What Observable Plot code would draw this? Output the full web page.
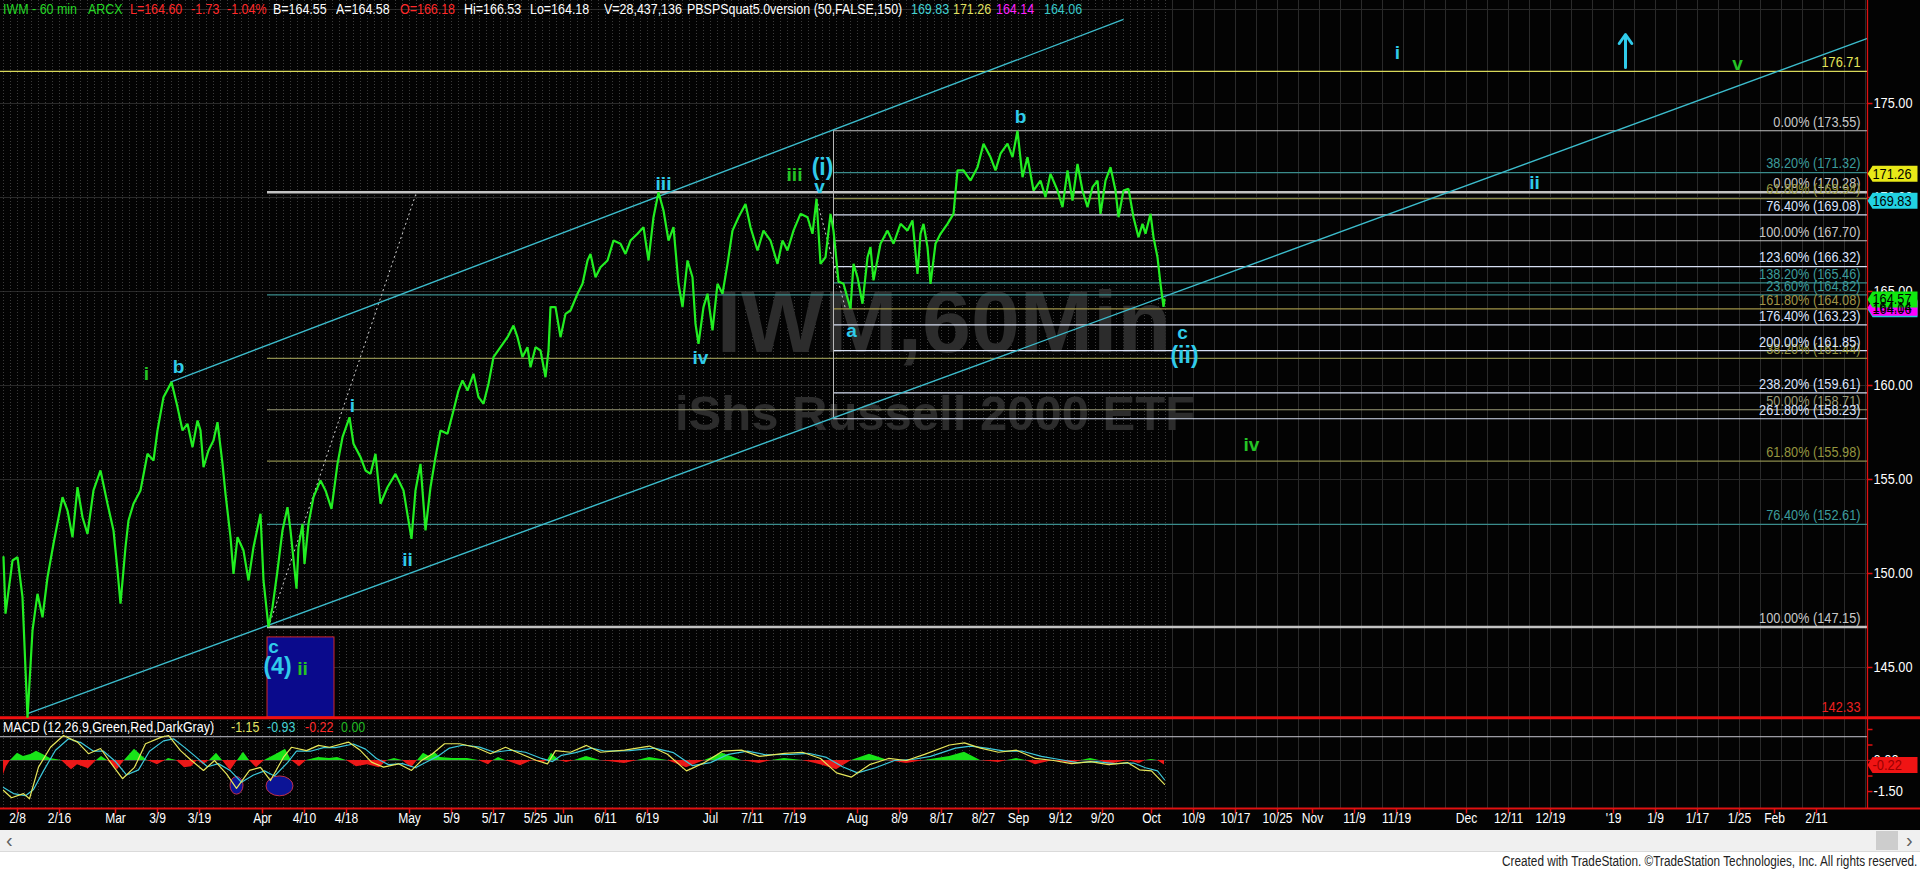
<!DOCTYPE html>
<html>
<head>
<meta charset="utf-8">
<script src="https://cdn.jsdelivr.net/npm/d3@7"></script>
<script src="https://cdn.jsdelivr.net/npm/@observablehq/plot@0.6"></script>
<style>
html,body{margin:0;padding:0;background:#fff;}
#wrap{position:relative;width:1920px;height:870px;overflow:hidden;font-family:"Liberation Sans",Arial,sans-serif;background:#fff;}
#chart{position:absolute;left:0;top:0;width:1920px;height:830px;background:#030303;}
#chart svg{position:absolute;left:0;background:transparent !important;max-width:none !important;}
.hl{position:absolute;white-space:nowrap;font-size:15px;line-height:17px;transform:scaleX(.83);transform-origin:0 50%;}
#scroll{position:absolute;left:0;top:830px;width:1920px;height:22px;background:#f0f0f0;border-bottom:1px solid #dadada;box-sizing:border-box;}
#thumb{position:absolute;left:1876px;top:1px;width:22px;height:19px;background:#cdcdcd;}
.arr{position:absolute;top:0;font-size:20px;line-height:20px;color:#606060;}
#foot{position:absolute;right:3px;top:852px;font-size:14px;line-height:18px;color:#222;white-space:nowrap;transform:scaleX(.84);transform-origin:100% 50%;}
</style>
</head>
<body>
<div id="wrap">
  <div id="chart"></div>
  <div id="scroll"><span class="arr" style="left:6px">&#8249;</span><div id="thumb"></div><span class="arr" style="left:1906px">&#8250;</span></div>
  <div id="foot">Created with TradeStation. &#169;TradeStation Technologies, Inc. All rights reserved.</div>
</div>
<script>
// ================= DATA =================
const firstDay = "2018-02-06";
const holidays = ["2018-02-19","2018-03-30","2018-05-28","2018-07-04","2018-09-03"];
const barsPerDay = 7;

const tickLabels = ["2/8","2/16","Mar","3/9","3/19","Apr","4/10","4/18","May","5/9","5/17","5/25","Jun","6/11","6/19","Jul","7/11","7/19","Aug","8/9","8/17","8/27","Sep","9/12","9/20","Oct","10/9","10/17","10/25","Nov","11/9","11/19","Dec","12/11","12/19","'19","1/9","1/17","1/25","Feb","2/11"];
const tickDates = ["2018-02-08","2018-02-16","2018-03-01","2018-03-09","2018-03-19","2018-04-02","2018-04-10","2018-04-18","2018-05-01","2018-05-09","2018-05-17","2018-05-25","2018-06-01","2018-06-11","2018-06-19","2018-07-02","2018-07-11","2018-07-19","2018-08-01","2018-08-09","2018-08-17","2018-08-27","2018-09-04","2018-09-12","2018-09-20","2018-10-01","2018-10-09","2018-10-17","2018-10-25","2018-11-01","2018-11-09","2018-11-19","2018-12-03","2018-12-11","2018-12-19","2019-01-01","2019-01-09","2019-01-17","2019-01-25","2019-02-01","2019-02-11"];

// 60-min bars: [bar number, price]
const price = [[0,150.87],[2,147.86],[9,150.69],[14,150.87],[19,148.74],[24,142.33],[29,146.97],[34,148.92],[39,147.67],[44,149.80],[50,151.58],[59,154.06],[64,153.35],[69,151.93],[74,154.59],[79,152.99],[84,152.11],[90,154.42],[97,155.48],[104,153.71],[110,152.29],[114,150.16],[117,148.39],[122,151.40],[125,152.82],[130,153.71],[137,154.42],[144,156.37],[150,156.01],[154,157.61],[160,159.38],[168,160.18],[174,158.85],[179,157.61],[184,157.96],[189,156.72],[194,158.14],[197,157.61],[200,155.65],[205,156.54],[210,157.07],[214,158.05],[219,155.83],[222,154.24],[227,151.93],[230,149.98],[234,151.93],[240,151.22],[245,149.63],[250,151.40],[257,153.18],[260,149.63],[265,147.15],[269,148.21],[274,150.16],[279,152.29],[284,153.53],[287,152.29],[293,149.19],[295,151.40],[299,152.64],[301,150.51],[305,152.64],[310,154.06],[317,154.95],[322,154.42],[328,153.44],[334,155.83],[339,157.25],[346,158.31],[350,156.90],[357,156.19],[362,155.48],[367,155.30],[372,156.37],[377,153.71],[384,154.59],[392,155.30],[400,154.42],[408,151.84],[412,154.42],[417,155.83],[422,152.29],[427,154.59],[432,156.19],[437,157.61],[444,157.43],[450,158.67],[455,159.73],[459,160.27],[464,159.73],[470,160.62],[475,159.38],[480,159.03],[485,160.09],[490,161.51],[497,162.04],[504,162.57],[510,163.19],[514,162.57],[519,161.51],[524,162.04],[527,160.97],[532,162.04],[537,161.86],[542,160.44],[545,161.86],[547,164.17],[552,164.17],[557,162.57],[562,163.81],[567,163.99],[574,164.88],[579,165.41],[584,166.65],[587,167.00],[592,165.76],[597,166.29],[604,166.65],[610,167.71],[617,167.54],[622,167.00],[627,167.71],[634,168.07],[640,168.42],[645,166.65],[650,168.95],[655,170.28],[660,169.31],[665,167.71],[670,168.42],[675,165.41],[679,164.17],[684,166.65],[689,165.76],[692,163.28],[695,162.22],[700,164.17],[704,164.88],[709,162.93],[714,165.41],[719,164.88],[724,166.47],[729,168.24],[735,168.95],[742,169.66],[747,168.42],[754,167.18],[760,168.24],[767,167.71],[774,166.47],[779,167.71],[784,167.18],[790,168.24],[797,169.13],[804,168.95],[809,168.07],[813,169.93],[817,166.47],[822,166.82],[827,169.13],[830,168.24],[835,165.53],[840,165.41],[847,164.08],[850,166.47],[854,165.76],[859,164.35],[864,166.82],[867,167.36],[870,165.59],[877,167.54],[884,168.24],[890,167.54],[897,168.60],[904,168.24],[909,168.78],[914,165.94],[917,168.07],[920,168.60],[924,167.36],[927,165.41],[932,167.54],[937,168.07],[944,168.60],[950,169.13],[954,171.44],[960,171.44],[967,170.90],[974,171.61],[980,172.86],[987,172.15],[992,171.44],[997,172.33],[1004,172.86],[1009,172.15],[1014,173.55],[1019,171.08],[1024,172.15],[1030,170.37],[1037,170.90],[1042,170.02],[1047,171.26],[1054,170.37],[1059,169.49],[1064,171.44],[1069,169.84],[1074,171.79],[1079,170.37],[1084,169.49],[1089,170.55],[1094,170.90],[1097,169.13],[1102,170.90],[1107,171.61],[1112,170.37],[1115,168.95],[1120,170.37],[1125,170.46],[1130,168.95],[1135,167.89],[1139,168.60],[1142,168.07],[1147,169.13],[1150,167.89],[1154,166.82],[1157,165.41],[1160,164.18],[1161,164.57]];

const macdLine = [[0,-1.45],[8,-1.8],[20,-1.6],[26,-1.85],[35,-0.32],[47,0.64],[60,1.21],[74,0.89],[85,0.33],[97,0.58],[108,-0.16],[119,-0.88],[131,-0.33],[142,0.81],[158,1.13],[165,1.21],[177,0.48],[188,0],[200,-0.48],[211,0],[223,-0.65],[233,-1.35],[246,-0.48],[257,-0.33],[267,-0.97],[280,0.16],[288,0.64],[303,0.48],[315,0.73],[326,0.64],[345,0.89],[357,0.48],[368,-0.08],[380,-0.32],[395,-0.16],[408,-0.48],[418,0],[429,0.33],[441,0.81],[456,0.81],[472,0.64],[487,0.33],[502,0.64],[517,0.33],[533,0],[544,-0.16],[552,0.48],[567,0.4],[583,0.73],[597,0.4],[621,0.5],[646,0.7],[664,0.3],[683,-0.5],[701,-0.1],[719,0.45],[738,0.5],[756,0.2],[781,0.35],[799,0.4],[817,0.1],[833,-0.6],[848,-0.8],[866,-0.2],[885,0.1],[903,0],[921,0.3],[946,0.75],[961,0.85],[977,0.6],[995,0.4],[1013,0.5],[1032,0.1],[1050,0],[1068,-0.15],[1087,-0.05],[1105,-0.2],[1124,-0.1],[1136,-0.45],[1148,-0.5],[1161,-1.15]];
const macdSignal = [[0,-1.3],[10,-1.6],[22,-1.7],[30,-1.4],[40,-0.5],[52,0.5],[65,1.05],[78,0.85],[90,0.45],[100,0.45],[112,-0.05],[123,-0.7],[135,-0.45],[146,0.45],[160,0.95],[170,1.05],[182,0.6],[193,0.15],[204,-0.3],[215,-0.15],[227,-0.5],[238,-1.05],[250,-0.7],[261,-0.5],[271,-0.75],[284,-0.1],[293,0.45],[307,0.45],[320,0.62],[332,0.62],[350,0.8],[362,0.55],[373,0.1],[385,-0.2],[399,-0.15],[412,-0.35],[422,-0.1],[434,0.2],[446,0.6],[460,0.75],[476,0.65],[491,0.4],[507,0.5],[522,0.4],[538,0.1],[549,-0.05],[558,0.25],[572,0.38],[588,0.6],[602,0.45],[626,0.48],[651,0.6],[670,0.38],[689,-0.25],[707,-0.1],[725,0.3],[744,0.45],[762,0.28],[787,0.3],[805,0.35],[823,0.15],[839,-0.3],[854,-0.6],[872,-0.35],[891,0],[909,0.05],[927,0.2],[952,0.6],[967,0.7],[983,0.6],[1001,0.45],[1019,0.45],[1038,0.2],[1056,0.05],[1074,-0.1],[1093,-0.05],[1111,-0.15],[1130,-0.12],[1142,-0.35],[1154,-0.5],[1161,-0.93]];
const macdHist = [[0,-0.7],[3,-0.3],[7,0],[14,0.35],[20,0.2],[28,0.3],[33,0.45],[39,0.3],[47,0.1],[58,0],[68,-0.45],[74,-0.2],[85,-0.4],[93,0],[98,0.2],[104,0],[114,-0.45],[121,0],[131,0.55],[139,0.2],[144,0],[154,-0.2],[162,0],[165,0.1],[173,0],[181,-0.35],[188,-0.3],[194,0],[200,-0.2],[206,0],[213,0.35],[219,0],[227,-0.5],[234,0],[240,0.4],[246,0],[253,-0.35],[261,0],[273,0.3],[282,0.55],[288,0],[296,-0.3],[303,0],[315,0.15],[326,0.1],[334,0.15],[343,0],[353,-0.3],[364,-0.2],[376,-0.35],[384,0],[391,0.1],[399,0],[408,-0.35],[414,0],[420,0.35],[426,0.2],[431,0.4],[437,0.15],[449,0.1],[464,0.1],[475,0],[485,-0.2],[490,0],[495,0.15],[502,0],[517,-0.25],[529,0],[540,-0.1],[544,0],[548,0.35],[556,0],[563,-0.1],[571,0],[583,0.2],[597,0],[621,-0.15],[634,0],[646,0.15],[664,0],[683,-0.35],[701,0],[719,0.35],[738,0],[756,-0.15],[768,0],[781,0.1],[799,0],[817,-0.2],[833,-0.45],[848,0],[866,0.3],[885,0],[903,-0.15],[921,0],[946,0.2],[961,0.4],[977,0],[995,-0.1],[1004,0],[1013,0.1],[1022,0],[1032,-0.2],[1050,0],[1068,-0.15],[1078,0],[1087,0.1],[1096,0],[1105,-0.2],[1124,0],[1136,-0.15],[1142,0],[1148,0.05],[1154,0],[1161,-0.22]];
const macdLevel = 1.15;
const macdLast = [-0.22];
const macdTickVals = [1.5, 0.75, 0, -0.75, -1.5];
const macdLabelVals = [0, -1.5];
const macdMarks = [[227,240,-1.65,-0.8],[263,290,-1.73,-0.77]];

// Fibonacci drawings: [percent, price]
const fibA = [[0,170.28],[23.6,164.82],[38.2,161.44],[50,158.71],[61.8,155.98],[76.4,152.61],[100,147.15]];
const fibAStart = 264;
const fibB = [[0,173.55],[38.2,171.32],[61.8,169.94],[76.4,169.08],[100,167.70],[123.6,166.32],[138.2,165.46],[161.8,164.08],[176.4,163.23],[200,161.85],[238.2,159.61],[261.8,158.23]];
const fibBStart = 830;
const targetLevel = [176.71];
const lowLevel = [142.33];

// trend channel & dotted projections: [bar, price, bar, price]
const channel = [[24,142.55,1864,178.46],[167,160.18,1120,179.47]];
const dotted = [[265,147.15,413,170.28],[813,169.93,842,164.08]];
const boxC4 = [[264,331,142.34,146.6]];
const arrowUp = [[1622,176.92,178.67]];

// Elliott wave labels: degree c = cyan, g = green
const waveText = ["i","b","i","ii","c","(4)","ii","iii","iv","iii","(i)","v","a","b","c","(ii)","iv","i","ii","v"];
const waveBar  = [143,175,349,404,270,274,299,660,697,791,819,816,848,1017,1179,1181,1248,1394,1531,1734];
const wavePrice= [160.62,160.98,158.94,150.73,146.08,145.02,144.93,170.73,161.47,171.22,171.58,170.59,162.92,174.31,162.78,161.60,156.84,177.68,170.76,177.11];
const waveDeg  = ["g","c","c","c","c","c","g","c","c","g","c","c","c","c","c","c","g","c","c","g"];

const priceTicks = [145,150,155,160,165,170,175];
const lastTags = [["pbsp4",164.06],["pbsp3",164.14],["close",164.57],["pbsp1",169.83],["pbsp2",171.26]];
const watermark = ["IWM,60Min","iShs Russell 2000 ETF"];

const headerText = ["IWM - 60 min","ARCX","L=164.60","-1.73","-1.04%","B=164.55","A=164.58","O=166.18","Hi=166.53","Lo=164.18","V=28,437,136","PBSPSquat5.0version (50,FALSE,150)","169.83","171.26","164.14","164.06"];
const macdHeaderText = ["MACD (12,26,9,Green,Red,DarkGray)","-1.15","-0.93","-0.22","0.00"];

// ================= LAYOUT / STYLE =================
const FONT = "Liberation Sans, Arial, sans-serif";
const headerLeft = [3,88,130,191,227,273,336,400,464,530,604,687,911,953,996,1044];
const headerColor = ["#27d827","#27d827","#ff2a2a","#ff2a2a","#ff2a2a","#fff","#fff","#ff2a2a","#fff","#fff","#fff","#fff","#45d2d2","#e2e260","#ff22ff","#38c8c8"];
const macdHeaderLeft = [3,231,267,305,341];
const macdHeaderColor = ["#fff","#e2e260","#45d2d2","#ff2a2a","#22b822"];
const GRAY="#c2c2c2", TEAL="#3a8c8c", OLIVE="#8c8c4c", WB="#d6def2";
const fibAColor = {0:GRAY,23.6:TEAL,38.2:OLIVE,50:"#9a9a76",61.8:OLIVE,76.4:TEAL,100:GRAY};
const fibBColor = {0:GRAY,38.2:TEAL,61.8:OLIVE,76.4:WB,100:GRAY,123.6:WB,138.2:TEAL,161.8:"#a09448",176.4:WB,200:WB,238.2:WB,261.8:WB};
const textColor = c => c===TEAL?"#3c9c9c":c===OLIVE?"#95953f":c===WB?"#dbe3ff":c===GRAY?"#c8c8c8":c;
const tagColor = {pbsp4:"#22c8d8",pbsp3:"#ff00ff",close:"#10e810",pbsp1:"#22d2e2",pbsp2:"#e8e818"};
const degColor = {c:"#30cbea", g:"#25c425"};
const X0 = -3, X1 = 1864, RM = 53;

// ================= HELPERS =================
function dayIndex(s){
  const d = new Date(firstDay+"T12:00:00Z"), end = new Date(s+"T12:00:00Z");
  let n = 0;
  while (d < end){
    const wd = d.getUTCDay(), iso = d.toISOString().slice(0,10);
    if (wd!==0 && wd!==6 && !holidays.includes(iso)) n++;
    d.setUTCDate(d.getUTCDate()+1);
  }
  return n;
}
const ticks = tickLabels.map((l,i)=>({label:l, bar: barsPerDay*dayIndex(tickDates[i])}));
const lastHistDay = Math.ceil(price[price.length-1][0]/barsPerDay);
const dailyGrid = d3.range(0, lastHistDay+1).map(t=>t*barsPerDay);
const futureGrid = d3.range(lastHistDay+1, Math.floor(X1/barsPerDay)+1, 3).map(t=>t*barsPerDay);

const tagSym = {draw(ctx){ctx.moveTo(0,0);ctx.lineTo(5,-8);ctx.lineTo(50,-8);ctx.lineTo(50,8);ctx.lineTo(5,8);ctx.closePath();}};
const hTick = {draw(ctx){ctx.moveTo(0,0);ctx.lineTo(5,0);}};
const vTick = {draw(ctx){ctx.moveTo(0,0);ctx.lineTo(0,5);}};

const fibRows = [
  ...fibA.map(([p,v])=>({p,v,start:fibAStart,color:fibAColor[p],w:(p===0||p===100)?2.5:1.2})),
  ...fibB.map(([p,v])=>({p,v,start:fibBStart,color:fibBColor[p],w:1.2}))
];
const fmt2 = v => v.toFixed(2);
const waves = waveText.map((t,i)=>({t,bar:waveBar[i],p:wavePrice[i],deg:waveDeg[i]}));

// ================= PRICE PANEL =================
const priceChart = Plot.plot({
  width: 1920, height: 720,
  marginLeft: 0, marginRight: RM, marginTop: 0, marginBottom: 3,
  x: {domain: [X0, X1], axis: null},
  y: {domain: [142.34, 180.479], axis: null},
  color: {type: "identity"},
  style: {background: "transparent", fontFamily: FONT, overflow: "visible"},
  marks: [
    Plot.ruleY(priceTicks.concat([180]), {stroke: "#2a2a2a"}),
    Plot.ruleX(dailyGrid, {stroke: "#3b3b3b", strokeDasharray: "1,2"}),
    Plot.ruleX(futureGrid, {stroke: "#2a2a2a"}),
    Plot.text([watermark[0]], {text: d=>d, frameAnchor: "middle", dx: 10, dy: -35, fontSize: 88, fontWeight: "bold", fill: "#2c2c2c"}),
    Plot.text([watermark[1]], {text: d=>d, frameAnchor: "middle", dx: 1, dy: 55, fontSize: 49, fontWeight: "bold", fill: "#2c2c2c"}),
    Plot.rect(boxC4, {x1: d=>d[0], x2: d=>d[1], y1: d=>d[2], y2: d=>d[3], fill: "#0a0a8c", stroke: "#d02828"}),
    Plot.ruleY(fibRows, {y: "v", x1: "start", x2: X1, stroke: "color", strokeWidth: "w"}),
    Plot.ruleX([fibBStart], {y1: fibB[fibB.length-1][1], y2: fibB[0][1], stroke: "#b8b8b8"}),
    Plot.ruleY(targetLevel, {stroke: "#d8d85a", strokeWidth: 1.3}),
    Plot.ruleY(lowLevel, {x1: X0, x2: X1+RM, stroke: "#f01010", strokeWidth: 3}),
    Plot.link(dotted, {x1: d=>d[0], y1: d=>d[1], x2: d=>d[2], y2: d=>d[3], stroke: "#d0d0d0", strokeDasharray: "2,3"}),
    Plot.link(channel, {x1: d=>d[0], y1: d=>d[1], x2: d=>d[2], y2: d=>d[3], stroke: "#3cbccc", strokeWidth: 1.4}),
    Plot.line(price, {x: d=>d[0], y: d=>d[1], stroke: "#22ee22", strokeWidth: 2.2, strokeLinejoin: "miter"}),
    Plot.text(waves.filter(d=>!d.t.startsWith("(")), {x: "bar", y: "p", text: "t", fill: d=>degColor[d.deg], fontSize: 19, fontWeight: "bold"}),
    Plot.text(waves.filter(d=>d.t.startsWith("(")), {x: "bar", y: "p", text: "t", fill: d=>degColor[d.deg], fontSize: 23, fontWeight: "bold"}),
    Plot.arrow(arrowUp, {x1: d=>d[0], y1: d=>d[1], x2: d=>d[0], y2: d=>d[2], stroke: "#30cbea", strokeWidth: 3, headLength: 9, headAngle: 70}),
    Plot.text(fibRows, {y: "v", text: d=>`${d.p.toFixed(2)}% (${fmt2(d.v)})`, frameAnchor: "right", dx: -7, dy: -9, textAnchor: "end", fill: d=>textColor(d.color), fontSize: 15}),
    Plot.text(targetLevel, {y: d=>d, text: fmt2, frameAnchor: "right", dx: -7, dy: -9, textAnchor: "end", fill: "#e6e65a", fontSize: 15}),
    Plot.text(lowLevel, {y: d=>d, text: fmt2, frameAnchor: "right", dx: -7, dy: -11, textAnchor: "end", fill: "#ee2020", fontSize: 15}),
    Plot.ruleX([X1], {stroke: "#e01010", strokeWidth: 1.3}),
    Plot.dot(priceTicks, {y: d=>d, frameAnchor: "right", symbol: hTick, stroke: "#e01010", fill: "none"}),
    Plot.text(priceTicks, {y: d=>d, text: fmt2, frameAnchor: "right", dx: 6, textAnchor: "start", fill: "#fff", fontSize: 15}),
    Plot.dot(lastTags, {y: d=>d[1], frameAnchor: "right", symbol: tagSym, fill: d=>tagColor[d[0]], stroke: "none"}),
    Plot.text(lastTags, {y: d=>d[1], text: d=>fmt2(d[1]), frameAnchor: "right", dx: 5, textAnchor: "start", fill: "#000", fontSize: 15})
  ]
});

// ================= MACD PANEL + TIME AXIS =================
const macdChart = Plot.plot({
  width: 1920, height: 113,
  marginLeft: 0, marginRight: RM, marginTop: 0, marginBottom: 22,
  x: {domain: [X0, X1], axis: null},
  y: {domain: [-2.32, 2.08], axis: null},
  color: {type: "identity"},
  style: {background: "transparent", fontFamily: FONT, overflow: "visible"},
  marks: [
    Plot.ruleX(dailyGrid, {stroke: "#3b3b3b", strokeDasharray: "1,2"}),
    Plot.ruleX(futureGrid, {stroke: "#2a2a2a"}),
    Plot.ruleY([macdLevel], {stroke: "#c6c6d0"}),
    Plot.ruleY([0], {stroke: "#444"}),
    Plot.areaY(macdHist, {x: d=>d[0], y1: 0, y2: d=>Math.max(0,d[1]), fill: "#18e418"}),
    Plot.areaY(macdHist, {x: d=>d[0], y1: 0, y2: d=>Math.min(0,d[1]), fill: "#ec1818"}),
    Plot.rect([macdMarks[0]], {x1: d=>d[0], x2: d=>d[1], y1: d=>d[2], y2: d=>d[3], fill: "#0c1496", stroke: "#c0304a", rx: 6.5, ry: 9}),
    Plot.rect([macdMarks[1]], {x1: d=>d[0], x2: d=>d[1], y1: d=>d[2], y2: d=>d[3], fill: "#0c1496", stroke: "#c0304a", rx: 13.5, ry: 10}),
    Plot.line(macdSignal, {x: d=>d[0], y: d=>d[1], stroke: "#3cc8dc", strokeWidth: 1.2}),
    Plot.line(macdLine, {x: d=>d[0], y: d=>d[1], stroke: "#e6e65a", strokeWidth: 1.2}),
    Plot.ruleY([-2.32], {x1: X0, x2: X1+RM, stroke: "#e01010", strokeWidth: 2}),
    Plot.ruleX([X1], {stroke: "#e01010", strokeWidth: 1.3}),
    Plot.dot(ticks, {x: "bar", frameAnchor: "bottom", symbol: vTick, stroke: "#e01010", fill: "none"}),
    Plot.text(ticks, {x: "bar", text: "label", frameAnchor: "bottom", dy: 14, fill: "#fff", fontSize: 14}),
    Plot.dot(macdTickVals, {y: d=>d, frameAnchor: "right", symbol: hTick, stroke: "#e01010", fill: "none"}),
    Plot.text(macdLabelVals, {y: d=>d, text: fmt2, frameAnchor: "right", dx: 6, textAnchor: "start", fill: "#fff", fontSize: 15}),
    Plot.dot(macdLast, {y: d=>d, frameAnchor: "right", symbol: tagSym, fill: "#f01414", stroke: "none"}),
    Plot.text(macdLast, {y: d=>d, text: fmt2, frameAnchor: "right", dx: 5, textAnchor: "start", fill: "#9a0000", fontSize: 15})
  ]
});

const chart = document.getElementById("chart");
macdChart.style.top = "717px";
priceChart.style.top = "0px";
chart.appendChild(macdChart);
chart.appendChild(priceChart);

function addHeader(texts, lefts, colors, top){
  texts.forEach((t,i)=>{
    const s = document.createElement("span");
    s.className = "hl"; s.textContent = t;
    s.style.left = lefts[i]+"px"; s.style.top = top+"px"; s.style.color = colors[i];
    chart.appendChild(s);
  });
}
addHeader(headerText, headerLeft, headerColor, 0);
addHeader(macdHeaderText, macdHeaderLeft, macdHeaderColor, 718);

function narrow(root, k){
  root.querySelectorAll("text").forEach(t=>{
    const g = t.parentNode;
    if (g.getAttribute && g.getAttribute("font-weight")==="bold") return;
    const fs = parseFloat(g.getAttribute && g.getAttribute("font-size")) || 10;
    if (fs > 20) return;
    const w = t.getComputedTextLength();
    if (w > 0){ t.setAttribute("lengthAdjust","spacingAndGlyphs"); t.setAttribute("textLength",(w*k).toFixed(2)); }
  });
}
narrow(priceChart, 0.85);
narrow(macdChart, 0.86);
</script>
</body>
</html>
